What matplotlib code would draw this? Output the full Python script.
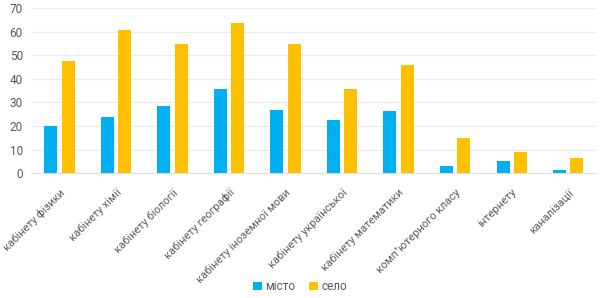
import matplotlib.pyplot as plt
import numpy as np

plt.rcParams['font.family'] = ['Roboto', 'DejaVu Sans']

categories = ['кабінету фізики', 'кабінету хімії', 'кабінету біології', 'кабінету географії',
              'кабінету іноземної мови', 'кабінету української', 'кабінету математики',
              'комп"ютерного класу', 'інтернету', 'каналізації']
misto = [19.8, 23.7, 28.4, 35.6, 26.7, 22.6, 26.3, 3.2, 5.2, 1.3]
selo = [47.7, 60.7, 54.9, 63.5, 54.9, 35.6, 45.8, 14.7, 9.0, 6.4]
yticks = [0, 10, 20, 30, 40, 50, 60, 70]

fig = plt.figure(figsize=(6, 2.98), dpi=100)
ax = fig.add_axes([0.052, 0.419, 0.942, 0.554])

x = np.arange(len(categories))
w = 0.23
ax.bar(x - 0.152, misto, w, color='#00B0F0', label='місто', zorder=3)
ax.bar(x + 0.152, selo, w, color='#FFC000', label='село', zorder=3)

ax.set_xlim(-0.5, len(categories) - 0.5)
ax.set_ylim(0, 70)
ax.set_yticks(yticks)
ax.grid(axis='y', color='#EBEBEB', linewidth=0.8, zorder=0)
for s in ['top', 'right', 'left']:
    ax.spines[s].set_visible(False)
ax.spines['bottom'].set_color('#E0E0E0')
ax.tick_params(axis='both', length=0, colors='#595959', labelsize=8.5)
ax.tick_params(axis='y', pad=6)
ax.set_xticks(x)
ax.set_xticklabels(categories, rotation=45, ha='right', rotation_mode='anchor', fontsize=8)
ax.tick_params(axis='x', pad=10)

fig.legend(loc='lower center', bbox_to_anchor=(0.5, -0.02), ncol=2, frameon=False,
           fontsize=8.5, labelcolor='#595959', handlelength=0.7, handleheight=0.7,
           handletextpad=0.3, columnspacing=1.2)

fig.savefig('out.png', dpi=100)
